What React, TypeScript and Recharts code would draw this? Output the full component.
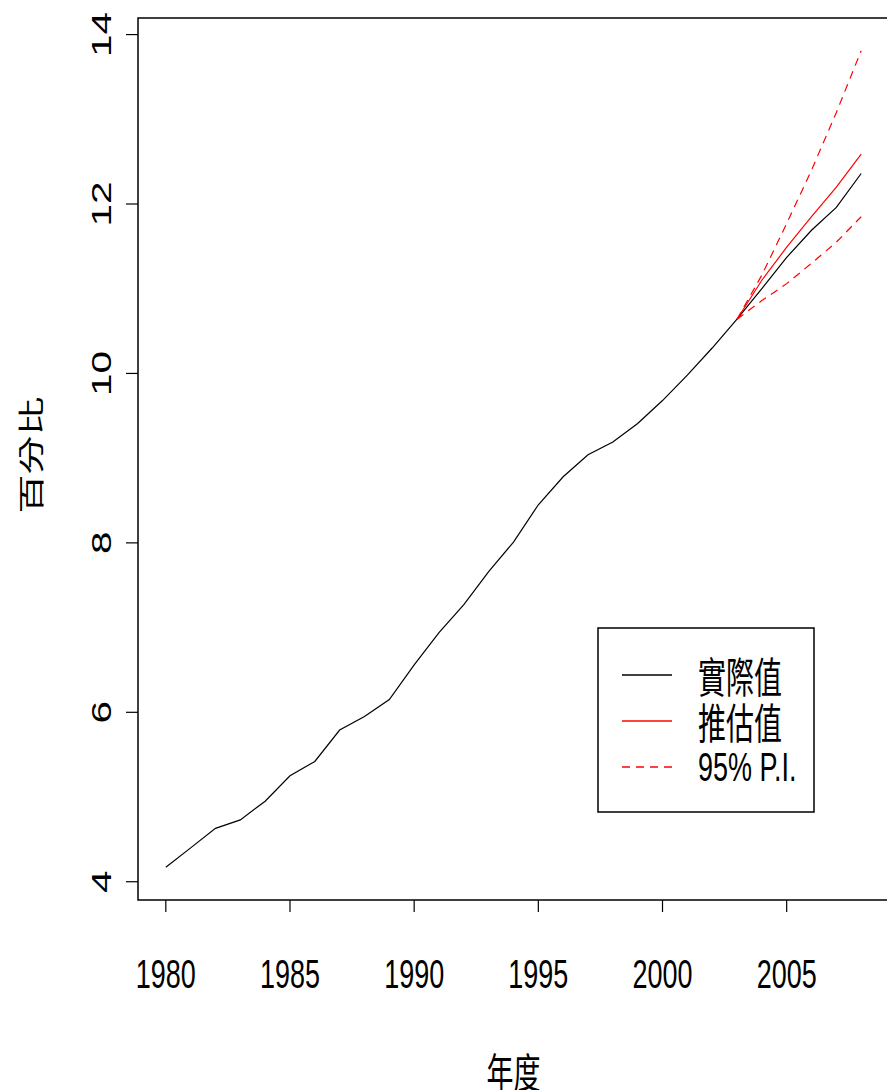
import React from "react";
import {
  LineChart,
  Line,
  XAxis,
  YAxis,
  ReferenceArea,
  Label,
} from "recharts";

const years = [
  1980, 1981, 1982, 1983, 1984, 1985, 1986, 1987, 1988, 1989, 1990, 1991, 1992,
  1993, 1994, 1995, 1996, 1997, 1998, 1999, 2000, 2001, 2002, 2003, 2004, 2005,
  2006, 2007, 2008,
];
const actual = [
  4.17, 4.4, 4.63, 4.73, 4.95, 5.25, 5.42, 5.79, 5.95, 6.15, 6.56, 6.94, 7.27,
  7.66, 8.01, 8.45, 8.78, 9.04, 9.19, 9.41, 9.68, 9.98, 10.3, 10.64, 11.0,
  11.37, 11.69, 11.96, 12.36,
];
const forecastYears = [2003, 2004, 2005, 2006, 2007, 2008];
const forecast = [10.64, 11.1, 11.49, 11.85, 12.2, 12.59];
const upper = [10.64, 11.16, 11.77, 12.4, 13.08, 13.81];
const lower = [10.64, 10.86, 11.06, 11.3, 11.55, 11.85];

const xTicks = [1980, 1985, 1990, 1995, 2000, 2005];
const yTicks = [4, 6, 8, 10, 12, 14];
const xTitle = "年度";
const yTitle = "百分比";
const legendLabels = ["實際值", "推估值", "95% P.I."];

const data = years.map((y, i) => {
  const j = forecastYears.indexOf(y);
  return {
    year: y,
    actual: actual[i],
    forecast: j >= 0 ? forecast[j] : null,
    upper: j >= 0 ? upper[j] : null,
    lower: j >= 0 ? lower[j] : null,
  };
});

// R-style 4% axis extension
const ext = (lo: number, hi: number): [number, number] => {
  const p = (hi - lo) * 0.04;
  return [lo - p, hi + p];
};
const allY = [...actual, ...forecast, ...upper, ...lower];
const xDom = ext(Math.min(...years), Math.max(...years));
const yDom = ext(Math.min(...allY), Math.max(...allY));

const FONT = "'Liberation Sans', Arial, sans-serif";
const CJK = "'Noto Sans CJK TC', 'Liberation Sans', sans-serif";
const STRETCH = 1.5;

const XTick = (props: any) => {
  const { x, y, payload } = props;
  return (
    <g transform={`translate(${x},${y + 62}) scale(1,${STRETCH})`}>
      <text
        x={0}
        y={0}
        textAnchor="middle"
        dominantBaseline="central"
        fontSize={27}
        fontFamily={FONT}
        fill="#000"
      >
        {payload.value}
      </text>
    </g>
  );
};

const YTick = (props: any) => {
  const { x, y, payload } = props;
  return (
    <g transform={`translate(${x - 24},${y}) scale(1,${STRETCH}) rotate(-90)`}>
      <text
        x={0}
        y={0}
        textAnchor="middle"
        dominantBaseline="central"
        fontSize={27}
        fontFamily={FONT}
        fill="#000"
      >
        {payload.value}
      </text>
    </g>
  );
};

const LegendBox = () => {
  const styles = [
    { color: "#000", dash: undefined },
    { color: "#ff0000", dash: undefined },
    { color: "#ff0000", dash: "8 6" },
  ];
  return (
    <svg width={220} height={188} style={{ display: "block" }}>
      <rect x={1} y={1} width={216} height={184} fill="#fff" stroke="#000" strokeWidth={1.5} />
      {legendLabels.map((lab, i) => {
        const cy = 48 + i * 46;
        return (
          <g key={lab}>
            <line
              x1={25}
              x2={75}
              y1={cy}
              y2={cy}
              stroke={styles[i].color}
              strokeWidth={1.5}
              strokeDasharray={styles[i].dash}
            />
            <g transform={`translate(101,${cy}) scale(1,${STRETCH})`}>
              <text
                x={0}
                y={0}
                dominantBaseline="central"
                fontSize={i < 2 ? 28 : 27}
                fontFamily={i < 2 ? CJK : FONT}
                fill="#000"
              >
                {lab}
              </text>
            </g>
          </g>
        );
      })}
    </svg>
  );
};

export default function App() {
  return (
    <div
      style={{
        position: "absolute",
        left: 0,
        top: 0,
        width: 887,
        height: 1090,
        overflow: "hidden",
        background: "#fff",
      }}
    >
      <LineChart
        width={900}
        height={1090}
        data={data}
        margin={{ top: 18, right: 11, left: 0, bottom: 0 }}
      >
        <XAxis
          dataKey="year"
          type="number"
          domain={xDom}
          ticks={xTicks}
          allowDataOverflow
          axisLine={false}
          tickLine={{ stroke: "#000", strokeWidth: 1.2 }}
          tickSize={12}
          tickMargin={0}
          height={190}
          tick={<XTick />}
          interval={0}
        >
          <Label
            content={(p: any) => {
              const vb = p.viewBox;
              return (
                <g transform={`translate(${vb.x + vb.width / 2},${vb.y + 170}) scale(1,${STRETCH})`}>
                  <text
                    x={0}
                    y={0}
                    textAnchor="middle"
                    dominantBaseline="central"
                    fontSize={27}
                    fontFamily={CJK}
                    fill="#000"
                  >
                    {xTitle}
                  </text>
                </g>
              );
            }}
          />
        </XAxis>
        <YAxis
          type="number"
          domain={yDom}
          ticks={yTicks}
          allowDataOverflow
          axisLine={false}
          tickLine={{ stroke: "#000", strokeWidth: 1.2 }}
          tickSize={12}
          tickMargin={0}
          width={138}
          tick={<YTick />}
          interval={0}
        >
          <Label
            content={(p: any) => {
              const vb = p.viewBox;
              return (
                <g transform={`translate(${vb.x + 30},${vb.y + vb.height / 2 - 4}) scale(1,${STRETCH}) rotate(-90)`}>
                  <text
                    x={0}
                    y={0}
                    textAnchor="middle"
                    dominantBaseline="central"
                    fontSize={26}
                    fontFamily={CJK}
                    fill="#000"
                  >
                    {yTitle}
                  </text>
                </g>
              );
            }}
          />
        </YAxis>
        <ReferenceArea
          x1={xDom[0]}
          x2={xDom[1]}
          y1={yDom[0]}
          y2={yDom[1]}
          fill="none"
          fillOpacity={0}
          stroke="#000"
          strokeWidth={1.5}
          ifOverflow="visible"
        />
        <Line
          dataKey="actual"
          stroke="#000"
          strokeWidth={1.2}
          dot={false}
          isAnimationActive={false}
        />
        <Line
          dataKey="forecast"
          stroke="#ff0000"
          strokeWidth={1.2}
          dot={false}
          isAnimationActive={false}
        />
        <Line
          dataKey="upper"
          stroke="#ff0000"
          strokeWidth={1.2}
          strokeDasharray="8 6"
          dot={false}
          isAnimationActive={false}
        />
        <Line
          dataKey="lower"
          stroke="#ff0000"
          strokeWidth={1.2}
          strokeDasharray="8 6"
          dot={false}
          isAnimationActive={false}
        />
      </LineChart>
      <div style={{ position: "absolute", left: 597, top: 627 }}>
        <LegendBox />
      </div>
    </div>
  );
}
